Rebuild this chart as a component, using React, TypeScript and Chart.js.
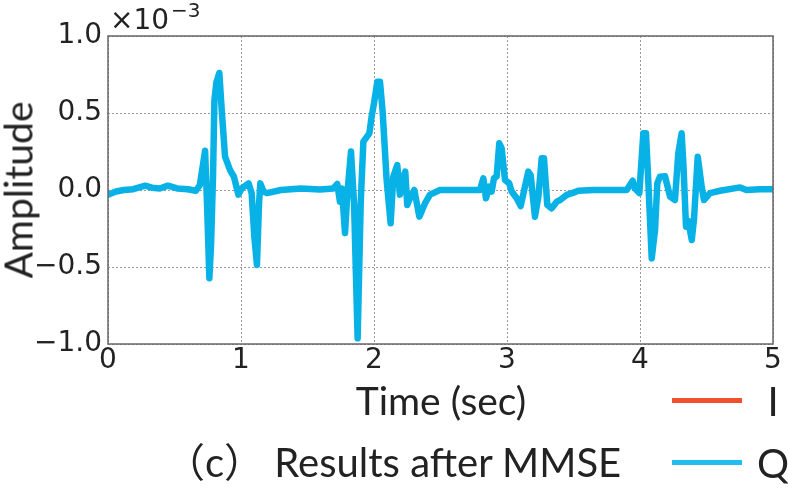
import React, { useEffect, useRef } from "react";
import { Chart, registerables } from "chart.js";

Chart.register(...registerables);

// Time axis (seconds)
const timeSec: number[] = [
  0.0, 0.06, 0.12, 0.19, 0.28, 0.33, 0.39, 0.45, 0.52, 0.6, 0.66, 0.69, 0.73, 0.745, 0.762, 0.775, 0.79, 0.8, 0.815, 0.837,
  0.855, 0.88, 0.917, 0.947, 0.98, 1.005, 1.057, 1.08, 1.1, 1.12, 1.135, 1.145, 1.17, 1.195, 1.3, 1.45, 1.594, 1.694, 1.724,
  1.744, 1.759, 1.782, 1.8, 1.827, 1.85, 1.877, 1.9, 1.92, 1.965, 1.982, 2.0, 2.025, 2.045, 2.065, 2.095, 2.125, 2.145,
  2.175, 2.195, 2.215, 2.235, 2.25, 2.276, 2.303, 2.341, 2.383, 2.421, 2.496, 2.571, 2.797, 2.822, 2.842, 2.867, 2.885,
  2.902, 2.922, 2.942, 2.96, 2.985, 3.017, 3.035, 3.073, 3.103, 3.135, 3.16, 3.178, 3.21, 3.236, 3.261, 3.278, 3.303,
  3.336, 3.374, 3.4, 3.449, 3.5, 3.536, 3.65, 3.9, 3.945, 3.962, 3.995, 4.025, 4.045, 4.062, 4.088, 4.113, 4.13, 4.15,
  4.188, 4.226, 4.263, 4.288, 4.313, 4.326, 4.346, 4.363, 4.389, 4.406, 4.434, 4.464, 4.481, 4.526, 4.602, 4.752, 4.8,
  4.9, 5.0,
];

// Q channel amplitude (×10^-3)
const qValues: number[] = [
  -0.03, -0.01, 0.0, 0.005, 0.028, 0.015, 0.01, 0.028, 0.01, 0.005, -0.005, 0.03, 0.255, -0.1, -0.573, -0.35, 0.1, 0.58,
  0.7, 0.76, 0.52, 0.216, 0.13, 0.086, -0.03, 0.01, 0.043, -0.02, -0.3, -0.487, -0.1, 0.043, -0.01, -0.02, 0.0, 0.01,
  0.004, 0.01, 0.039, -0.076, 0.01, -0.28, -0.02, 0.25, -0.087, -0.963, -0.087, 0.314, 0.368, 0.476, 0.563, 0.703, 0.703,
  0.508, 0.065, -0.216, 0.086, 0.162, -0.03, 0.065, 0.119, -0.097, -0.043, 0.0, -0.173, -0.087, -0.03, 0.0, 0.0, 0.0,
  0.076, -0.054, 0.022, -0.01, 0.076, 0.087, 0.303, 0.27, 0.065, 0.043, -0.01, -0.054, -0.104, 0.022, 0.119, 0.097,
  -0.173, -0.043, 0.206, 0.206, -0.097, -0.119, -0.076, -0.065, -0.032, -0.017, -0.005, 0.0, 0.0, 0.06, 0.01, -0.02,
  0.368, 0.368, 0.065, -0.444, -0.26, 0.043, 0.086, 0.09, -0.043, -0.065, 0.238, 0.368, 0.173, -0.238, -0.2, -0.325,
  -0.19, 0.216, 0.02, -0.065, -0.02, -0.005, 0.017, 0.0, 0.005, 0.005,
];

const xTicks: number[] = [0, 1, 2, 3, 4, 5];
const yTicks: number[] = [-1.0, -0.5, 0.0, 0.5, 1.0];

const Q_COLOR = "#08b2e6";
const I_COLOR = "#f0502e";
const TEXT_COLOR = "#222222";
const LABEL_FONT = "Lato, 'Noto Sans CJK SC', sans-serif";

const framePlugin = {
  id: "frame",
  afterDraw(chart: any) {
    const { ctx, chartArea } = chart;
    ctx.save();
    ctx.strokeStyle = "#666666";
    ctx.lineWidth = 1.5;
    ctx.strokeRect(chartArea.left, chartArea.top, chartArea.right - chartArea.left, chartArea.bottom - chartArea.top);
    ctx.restore();
  },
};

function Label(props: { x: number; y: number; size: number; text: string; rotate?: boolean; align?: string; family?: string }) {
  const { x, y, size, text, rotate, align, family } = props;
  const tx = align === "left" ? "0" : "-50%";
  return (
    <div
      style={{
        position: "absolute",
        left: x,
        top: y,
        transform: `translate(${tx}, -50%)` + (rotate ? " rotate(-90deg)" : ""),
        transformOrigin: rotate ? "50% 50%" : undefined,
        fontFamily: family || LABEL_FONT,
        fontSize: size,
        lineHeight: 1,
        whiteSpace: "pre",
        color: TEXT_COLOR,
      }}
    >
      {text}
    </div>
  );
}

export default function App() {
  const canvasRef = useRef<HTMLCanvasElement | null>(null);

  useEffect(() => {
    document.body.style.margin = "0";
    const canvas = canvasRef.current;
    if (!canvas) return;
    const qPoints = timeSec.map((t, i) => ({ x: t, y: qValues[i] }));
    const chart = new Chart(canvas, {
      type: "line",
      data: {
        datasets: [
          {
            label: "I",
            data: [],
            borderColor: I_COLOR,
            borderWidth: 5,
            pointRadius: 0,
          },
          {
            label: "Q",
            data: qPoints,
            borderColor: Q_COLOR,
            borderWidth: 6.5,
            pointRadius: 0,
            tension: 0,
            borderJoinStyle: "round",
            borderCapStyle: "round",
          },
        ],
      },
      options: {
        responsive: false,
        animation: false,
        events: [],
        layout: { padding: { left: 0, right: 16, top: 36, bottom: 109 } },
        plugins: { legend: { display: false }, tooltip: { enabled: false } },
        scales: {
          x: {
            type: "linear",
            min: 0,
            max: 5,
            afterFit: (s: any) => {
              s.height = 40;
            },
            afterBuildTicks: (s: any) => {
              s.ticks = xTicks.map((v) => ({ value: v }));
            },
            ticks: {
              font: { family: "'DejaVu Sans'", size: 28 },
              color: TEXT_COLOR,
              padding: 0,
              maxRotation: 0,
              callback: (v: any) => String(v),
            },
            grid: { color: "#9a9a9a", lineWidth: 1, drawTicks: false },
            border: { display: false, dash: [2, 2] },
          },
          y: {
            type: "linear",
            min: -1,
            max: 1,
            afterFit: (s: any) => {
              s.width = 108;
            },
            afterBuildTicks: (s: any) => {
              s.ticks = yTicks.map((v) => ({ value: v }));
            },
            ticks: {
              font: { family: "'DejaVu Sans'", size: 28 },
              color: TEXT_COLOR,
              padding: 6,
              callback: (v: any) => {
                const n = Number(v);
                const s = Math.abs(n).toFixed(1);
                return n < 0 ? "\u2212" + s : s;
              },
            },
            grid: { color: "#9a9a9a", lineWidth: 1, drawTicks: false },
            border: { display: false, dash: [2, 2] },
          },
        },
      },
      plugins: [framePlugin],
    });
    return () => chart.destroy();
  }, []);

  return (
    <div style={{ position: "absolute", left: 0, top: 0, width: 789, height: 493, background: "#ffffff", overflow: "hidden" }}>
      <canvas ref={canvasRef} width={789} height={493} style={{ position: "absolute", left: 0, top: 0 }} />
      <Label x={110} y={20} size={28} text={"\u00d710"} align="left" family="'DejaVu Sans'" />
      <Label x={171} y={10} size={20} text={"\u22123"} align="left" family="'DejaVu Sans'" />
      <Label x={441} y={400} size={39} text="Time (sec)" />
      <Label x={18} y={190} size={39} text="Amplitude" rotate />
      <Label x={165} y={462} size={40} text={"\uff08c\uff09 Results after MMSE"} align="left" />
      <div style={{ position: "absolute", left: 672, top: 398, width: 70, height: 5, background: I_COLOR }} />
      <Label x={773} y={401} size={40} text="I" />
      <div style={{ position: "absolute", left: 672, top: 460, width: 70, height: 5, background: "#22bdef" }} />
      <Label x={773} y={463} size={40} text="Q" />
    </div>
  );
}
